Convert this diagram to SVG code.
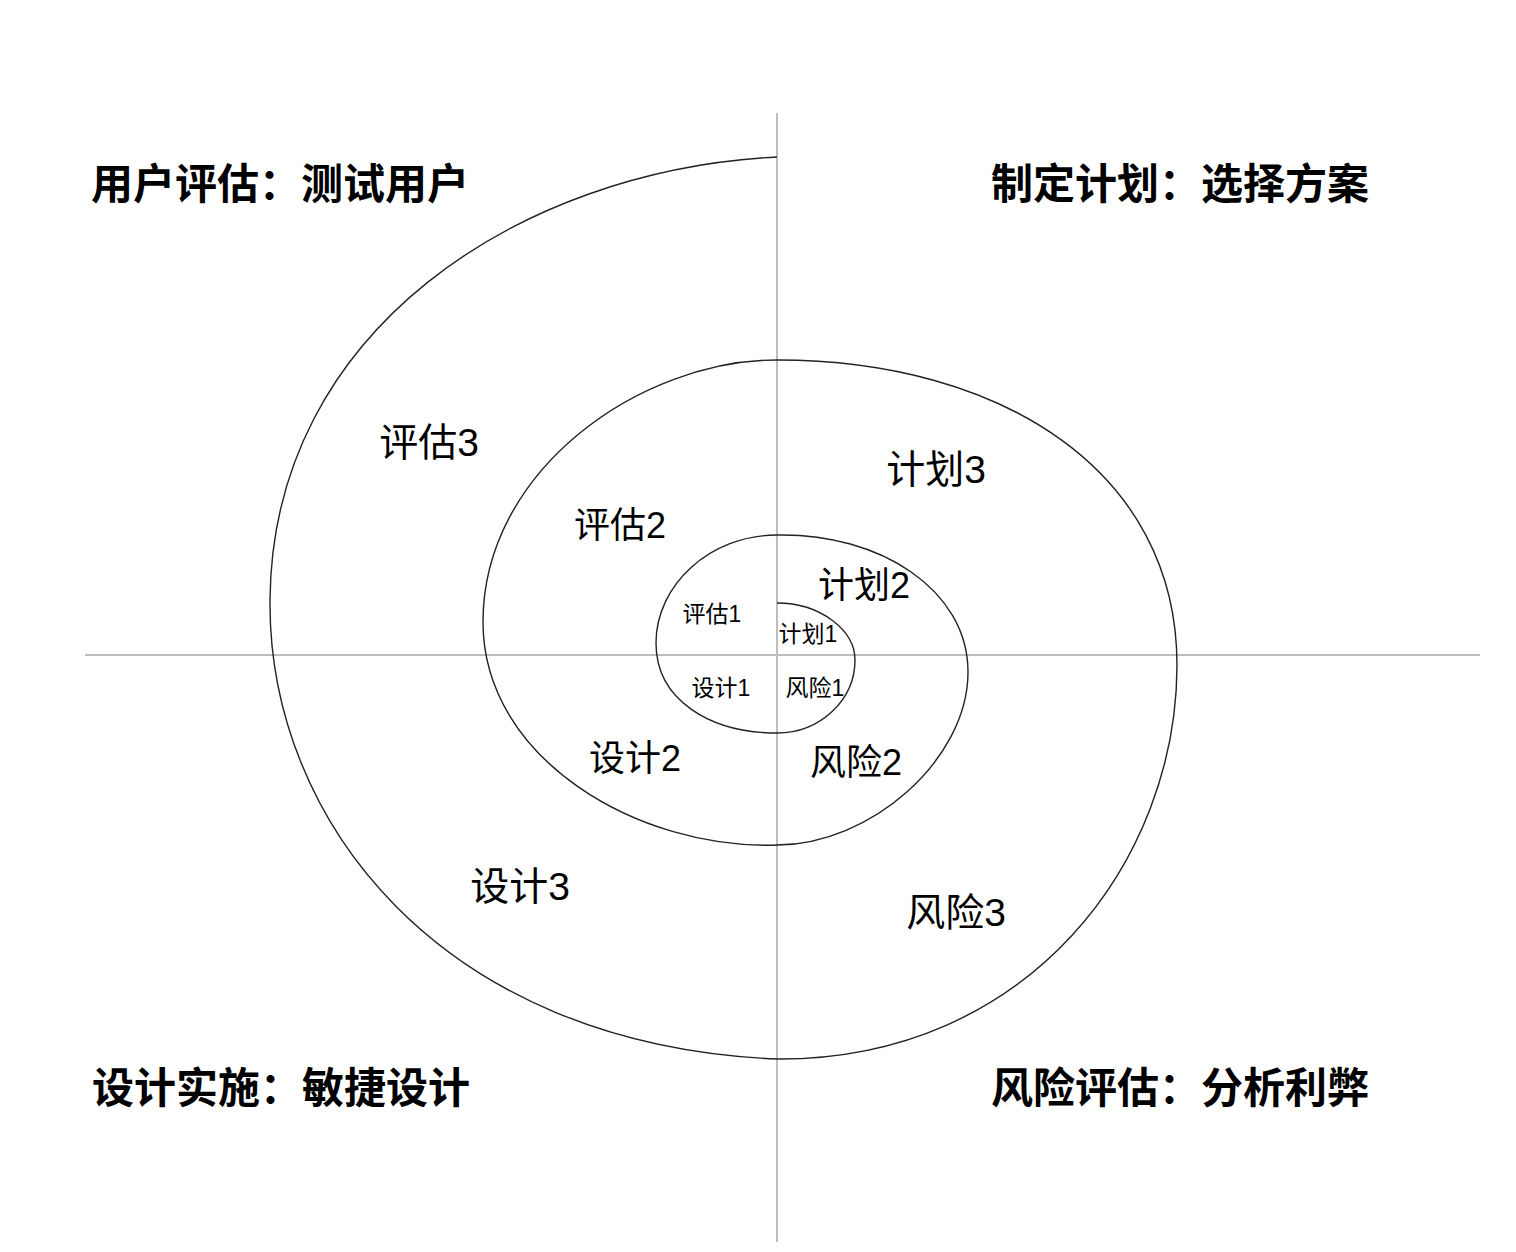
<svg xmlns="http://www.w3.org/2000/svg" width="1516" height="1252" viewBox="0 0 1516 1252">
<style>
.axis{stroke:#bdbdbd;stroke-width:2;fill:none}
.sp{stroke:#222;stroke-width:1.4;fill:none}
.t{font-family:"Liberation Sans","Noto Sans CJK SC",sans-serif;fill:#000;text-anchor:middle}
.corner{font-family:"Noto Sans CJK SC","Liberation Sans",sans-serif;font-size:42px;font-weight:700;fill:#000;text-anchor:middle}
.l3{font-size:39px}
.l2{font-size:36px}
.l1{font-size:23px}
</style>
<rect width="1516" height="1252" fill="#fff"/>
<g id="axes">
<line class="axis" x1="777" y1="113" x2="777" y2="1242"/>
<line class="axis" x1="85" y1="655" x2="1480" y2="655"/>
</g>
<g id="spiral">
<path class="sp" d="M777,603 C820,603 855,630 855,660 C855,700 820,733 777,733 C710,733 656,700 656,643 C656,585 710,535 777,535 C880,533 968,590 968,672 C968,760 870,845 777,845 C640,850 483,760 483,622 C483,470 640,360 777,360 C1000,360 1177,470 1177,665 C1177,860 1030,1060 777,1059 C440,1045 268,820 270,600 C272,330 520,170 777,157"/>
</g>
<g id="corner-tl"><text class="corner" x="280" y="199">用户评估：测试用户</text></g>
<g id="corner-tr"><text class="corner" x="1180" y="199">制定计划：选择方案</text></g>
<g id="corner-bl"><text class="corner" x="281" y="1103">设计实施：敏捷设计</text></g>
<g id="corner-br"><text class="corner" x="1180" y="1103">风险评估：分析利弊</text></g>
<g id="eval3"><text class="t l3" x="429" y="456">评估3</text></g>
<g id="plan3"><text class="t l3" x="936" y="483">计划3</text></g>
<g id="eval2"><text class="t l2" x="620" y="538">评估2</text></g>
<g id="plan2"><text class="t l2" x="864" y="598">计划2</text></g>
<g id="eval1"><text class="t l1" x="712" y="622">评估1</text></g>
<g id="plan1"><text class="t l1" x="808" y="642">计划1</text></g>
<g id="design1"><text class="t l1" x="721" y="696">设计1</text></g>
<g id="risk1"><text class="t l1" x="815" y="696">风险1</text></g>
<g id="design2"><text class="t l2" x="635" y="771">设计2</text></g>
<g id="risk2"><text class="t l2" x="856" y="775">风险2</text></g>
<g id="design3"><text class="t l3" x="520" y="900">设计3</text></g>
<g id="risk3"><text class="t l3" x="956" y="926">风险3</text></g>
</svg>
